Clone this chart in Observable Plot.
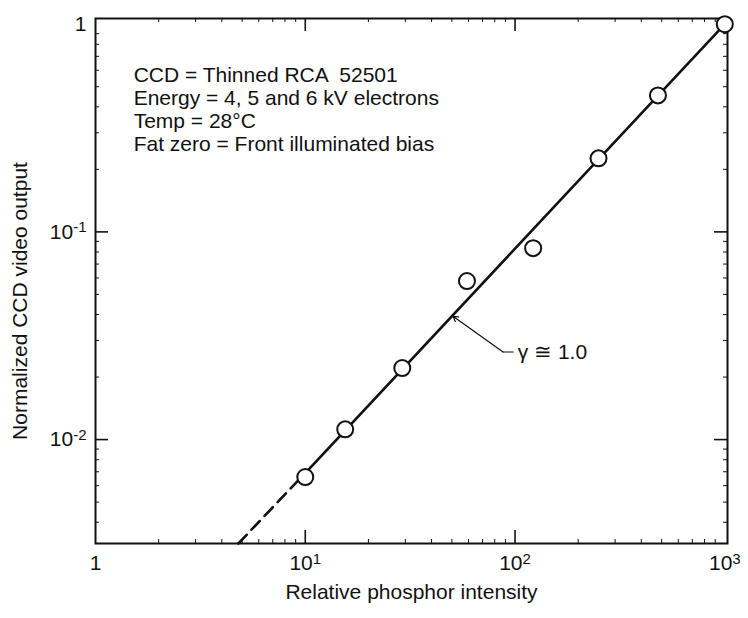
<!DOCTYPE html>
<html><head><meta charset="utf-8">
<script src="https://cdn.jsdelivr.net/npm/d3@7"></script>
<script src="https://cdn.jsdelivr.net/npm/@observablehq/plot@0.6"></script>
<style>body{margin:0;background:#fff}</style>
</head><body><div id="chart"></div>
<script>
// Measured points
const intensity   = [10, 15.5, 29, 59, 122, 250, 480, 1000];
const videoOutput = [0.0066, 0.0112, 0.0221, 0.058, 0.0835, 0.226, 0.454, 1.0];
// Fitted line (gamma ~ 1.0): dashed extrapolation then solid part
const dashX = [4.8, 10];
const dashY = [0.00316, 0.0069];
const solidX = [10, 1000];
const solidY = [0.0069, 1.0];
// Axes
const xDomain = [1, 1030];
const yDomain = [0.00316, 1.065];
const xTickValues = [1, 10, 100, 1000];
const xTickLabels = ["1", "10^1", "10^2", "10^3"];
const yTickValues = [1, 0.1, 0.01];
const yTickLabels = ["1", "10^-1", "10^-2"];
const majorX = [10, 100];
const majorY = [0.1, 0.01];
const minorX = [2,3,4,5,6,7,8,9,20,30,40,50,60,70,80,90,200,300,400,500,600,700,800,900];
const minorY = [0.004,0.005,0.006,0.007,0.008,0.009,0.02,0.03,0.04,0.05,0.06,0.07,0.08,0.09,0.2,0.3,0.4,0.5,0.6,0.7,0.8,0.9];
const xLabel = "Relative phosphor intensity";
const yLabel = "Normalized CCD video output";
const noteLines = ["CCD = Thinned RCA  52501", "Energy = 4, 5 and 6 kV electrons", "Temp = 28°C", "Fat zero = Front illuminated bias"];
const noteAt = {x: 1.52, y: 0.635};
const gammaLabel = "γ ≅ 1.0";
const leaderX = [50.6, 87.7, 98];
const leaderY = [0.0392, 0.0264, 0.0264];
const gammaAt = {x: 103, y: 0.0264};

const W = 748, H = 618, mL = 95, mR = 21, mT = 18, mB = 75;
const innerW = W - mL - mR, innerH = H - mT - mB;
const ink = "#111";
const fs = 21;

const pts = intensity.map((x, i) => ({x, y: videoOutput[i]}));
const dash = dashX.map((x, i) => ({x, y: dashY[i]}));
const solid = solidX.map((x, i) => ({x, y: solidY[i]}));
const leader = leaderX.map((x, i) => ({x, y: leaderY[i]}));

const chart = Plot.plot({
  width: W, height: H,
  marginLeft: mL, marginRight: mR, marginTop: mT, marginBottom: mB,
  style: {fontFamily: "'Liberation Sans', Arial, Helvetica, sans-serif", fontSize: fs + "px", color: ink, background: "#fff"},
  x: {type: "log", domain: xDomain, axis: null},
  y: {type: "log", domain: yDomain, axis: null},
  marks: [
    Plot.frame({stroke: ink, strokeWidth: 2}),
    // major inward ticks
    Plot.tickX(majorX, {x: d => d, insetTop: innerH - 13, stroke: ink, strokeWidth: 1.6}),
    Plot.tickX(majorX, {x: d => d, insetBottom: innerH - 13, stroke: ink, strokeWidth: 1.6}),
    Plot.tickY(majorY, {y: d => d, insetRight: innerW - 13, stroke: ink, strokeWidth: 1.6}),
    Plot.tickY(majorY, {y: d => d, insetLeft: innerW - 13, stroke: ink, strokeWidth: 1.6}),
    // minor inward ticks
    Plot.tickX(minorX, {x: d => d, insetTop: innerH - 4, stroke: ink, strokeWidth: 1}),
    Plot.tickX(minorX, {x: d => d, insetBottom: innerH - 4, stroke: ink, strokeWidth: 1}),
    Plot.tickY(minorY, {y: d => d, insetRight: innerW - 4, stroke: ink, strokeWidth: 1}),
    Plot.tickY(minorY, {y: d => d, insetLeft: innerW - 4, stroke: ink, strokeWidth: 1}),
    // tick labels
    Plot.axisX(xTickValues, {anchor: "bottom", tickSize: 0, tickPadding: 12, label: null, fontSize: fs,
      tickFormat: d => xTickLabels[xTickValues.indexOf(d)]}),
    Plot.axisY(yTickValues, {anchor: "left", tickSize: 0, tickPadding: 9, label: null, fontSize: fs,
      tickFormat: d => yTickLabels[yTickValues.indexOf(d)]}),
    // axis titles
    Plot.text([xLabel], {frameAnchor: "bottom", dy: 55, text: d => d, fontSize: fs, fill: ink}),
    Plot.text([yLabel], {frameAnchor: "left", textAnchor: "middle", dx: -75, dy: 20, rotate: -90,
      text: d => d, fontSize: fs, fill: ink}),
    // fit line
    Plot.line(dash, {x: "x", y: "y", stroke: ink, strokeWidth: 2.6, strokeDasharray: "12,7"}),
    Plot.line(solid, {x: "x", y: "y", stroke: ink, strokeWidth: 2.6}),
    // data points
    Plot.dot(pts, {x: "x", y: "y", r: 8, fill: "white", stroke: ink, strokeWidth: 2}),
    // notes
    Plot.text([noteLines.join("\n")], {x: () => noteAt.x, y: () => noteAt.y, text: d => d,
      textAnchor: "start", lineAnchor: "top", lineHeight: 1.1, fontSize: fs, fill: ink}),
    Plot.line(leader.slice(1), {x: "x", y: "y", stroke: ink, strokeWidth: 1.2}),
    Plot.arrow([leader], {x1: d => d[1].x, y1: d => d[1].y, x2: d => d[0].x, y2: d => d[0].y,
      stroke: ink, strokeWidth: 1.2, headLength: 7}),
    Plot.text([gammaLabel], {x: () => gammaAt.x, y: () => gammaAt.y, text: d => d,
      textAnchor: "start", fontSize: fs, fill: ink})
  ]
});

// render superscripts in tick labels as tspans
d3.select(chart).selectAll("g[aria-label$='tick label'] text").each(function() {
  const t = d3.select(this);
  const s = t.text();
  const m = s.match(/^10\^(.+)$/);
  if (m) {
    t.text("10");
    t.append("tspan").attr("dy", "-0.45em").attr("font-size", "15px").text(m[1]);
  }
});

document.getElementById("chart").appendChild(chart);
</script>
</body></html>
